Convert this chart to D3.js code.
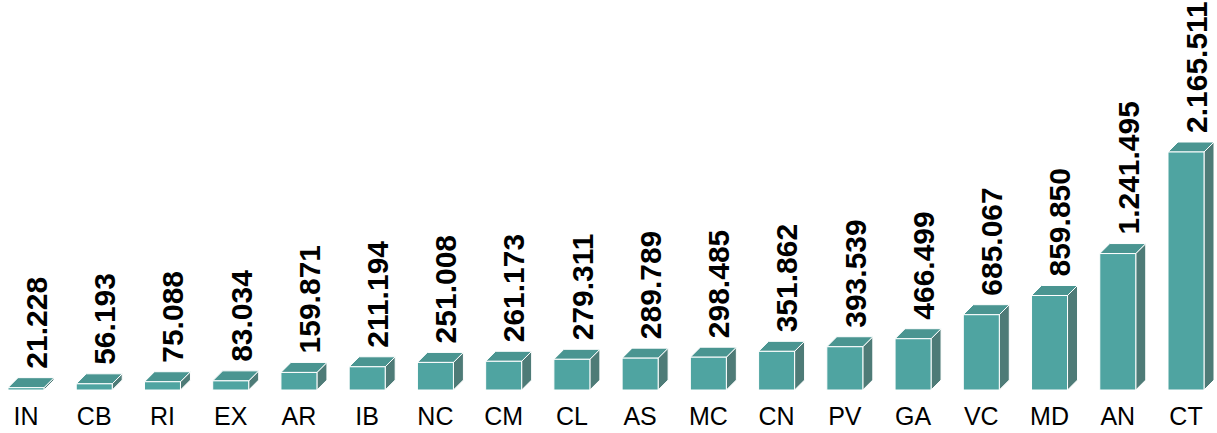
<!DOCTYPE html>
<html>
<head>
<meta charset="utf-8">
<script src="https://cdn.jsdelivr.net/npm/d3@7"></script>
<style>
  body { margin: 0; background: #fff; }
  svg { display: block; font-family: "Liberation Sans", Arial, sans-serif; }
</style>
</head>
<body>
<div id="chart"></div>
<script>
const categories = ["IN", "CB", "RI", "EX", "AR", "IB", "NC", "CM", "CL", "AS", "MC", "CN", "PV", "GA", "VC", "MD", "AN", "CT"];
const values = [21228, 56193, 75088, 83034, 159871, 211194, 251008, 261173, 279311, 289789, 298485, 351862, 393539, 466499, 685067, 859850, 1241495, 2165511];

const width = 1217;
const height = 433;
const baseY = 390;
const depthX = 10;
const depthY = 10;

const colors = { front: "#4fa4a1", top: "#4a9591", side: "#4e7b77" };

const fmt = d3.formatLocale({ decimal: ",", thousands: ".", grouping: [3], currency: ["", ""] }).format(",d");

const svg = d3.select("#chart")
  .append("svg")
  .attr("width", width)
  .attr("height", height);

const xScale = d3.scaleBand()
  .domain(categories)
  .range([8, 1204])
  .paddingInner(0.4725)
  .paddingOuter(0);

const yScale = d3.scaleLinear()
  .domain([0, d3.max(values)])
  .range([baseY, 152]);

const data = categories.map((c, i) => ({ cat: c, value: values[i] }));
const bw = xScale.bandwidth();

const bars = svg.selectAll("g.bar")
  .data(data)
  .enter()
  .append("g")
  .attr("class", "bar");

// side face
bars.append("path")
  .attr("fill", colors.side)
  .attr("stroke", "#fff")
  .attr("stroke-width", 1)
  .attr("d", (d) => {
    const x = xScale(d.cat) + bw, y = yScale(d.value);
    return `M${x},${y}L${x + depthX},${y - depthY}L${x + depthX},${baseY - depthY}L${x},${baseY}Z`;
  });

// top face
bars.append("path")
  .attr("fill", colors.top)
  .attr("stroke", "#fff")
  .attr("stroke-width", 1)
  .attr("d", (d) => {
    const x = xScale(d.cat), y = yScale(d.value);
    return `M${x},${y}L${x + depthX},${y - depthY}L${x + bw + depthX},${y - depthY}L${x + bw},${y}Z`;
  });

// front face
bars.append("rect")
  .attr("fill", colors.front)
  .attr("stroke", "#fff")
  .attr("stroke-width", 1)
  .attr("x", (d) => xScale(d.cat))
  .attr("y", (d) => yScale(d.value))
  .attr("width", bw)
  .attr("height", (d) => baseY - yScale(d.value));

// value labels
bars.append("text")
  .attr("transform", (d) => `translate(${xScale(d.cat) + bw / 2 + 10},${yScale(d.value) - depthY - 9}) rotate(-90)`)
  .attr("dy", "0.36em")
  .attr("text-anchor", "start")
  .attr("font-size", 30)
  .attr("font-weight", "bold")
  .attr("fill", "#000")
  .text((d) => fmt(d.value));

// category axis labels
svg.append("g")
  .selectAll("text")
  .data(categories)
  .enter()
  .append("text")
  .attr("x", (d) => xScale(d) + bw / 2)
  .attr("y", 425)
  .attr("text-anchor", "middle")
  .attr("font-size", 25)
  .attr("fill", "#000")
  .text((d) => d);
</script>
</body>
</html>
